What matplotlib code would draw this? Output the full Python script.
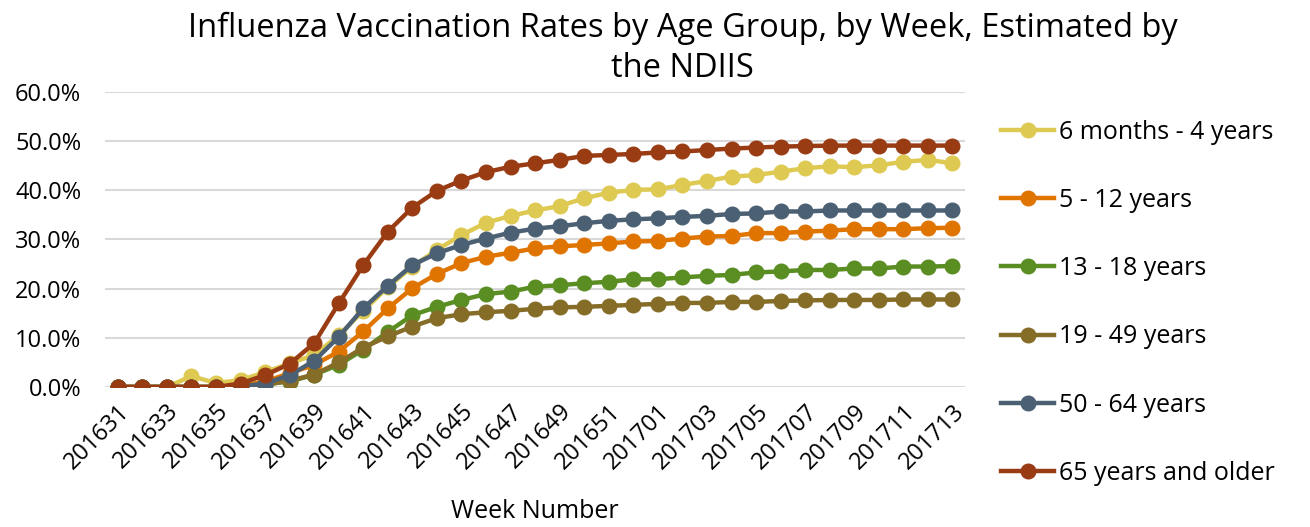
import matplotlib
matplotlib.use('Agg')
import matplotlib.pyplot as plt
from matplotlib.ticker import PercentFormatter

plt.rcParams['font.family'] = ['Open Sans', 'DejaVu Sans']

weeks = [str(201600 + w) for w in range(31, 53)] + [str(201700 + w) for w in range(1, 14)]

labels = ['6 months - 4 years', '5 - 12 years', '13 - 18 years',
          '19 - 49 years', '50 - 64 years', '65 years and older']
colors = ['#DECA52', '#E07400', '#5A8D22', '#856D28', '#4B6073', '#993C14']

y6m_4 = [0, 0, 0, 2.2, 0.8, 1.4, 3.0, 4.8, 6.5, 10.5, 15.5, 20.3, 24.5, 27.9, 30.9,
         33.4, 34.8, 35.9, 36.8, 38.4, 39.5, 40.1, 40.2, 41.1, 41.9, 42.8, 43.1,
         43.8, 44.5, 44.9, 44.7, 45.1, 45.8, 46.2, 45.5]
y5_12 = [0, 0, 0, 0, 0, 0.2, 1.1, 2.8, 4.5, 7.2, 11.3, 16.0, 20.1, 23.0, 25.2,
         26.5, 27.3, 28.2, 28.6, 28.9, 29.2, 29.6, 29.7, 30.2, 30.6, 30.7, 31.3,
         31.3, 31.6, 31.8, 32.1, 32.1, 32.1, 32.3, 32.4]
y13_18 = [0, 0, 0, 0, 0, 0.1, 0.6, 1.1, 2.5, 4.5, 7.6, 11.2, 14.6, 16.3, 17.7,
          18.9, 19.4, 20.4, 20.7, 21.1, 21.4, 21.9, 21.9, 22.3, 22.6, 22.8, 23.3,
          23.5, 23.8, 23.8, 24.1, 24.1, 24.5, 24.5, 24.6]
y19_49 = [0, 0, 0, 0, 0, 0.1, 0.4, 1.3, 2.5, 5.0, 8.0, 10.3, 12.3, 14.0, 14.8,
          15.2, 15.5, 15.9, 16.2, 16.3, 16.5, 16.7, 16.9, 17.1, 17.1, 17.3, 17.3,
          17.5, 17.6, 17.7, 17.7, 17.7, 17.8, 17.8, 17.8]
y50_64 = [0, 0, 0, 0, 0, 0.1, 0.7, 2.4, 5.3, 10.2, 16.0, 20.6, 24.8, 27.2, 28.9,
          30.2, 31.4, 32.2, 32.7, 33.3, 33.8, 34.1, 34.3, 34.6, 34.8, 35.2, 35.3,
          35.7, 35.7, 35.9, 35.9, 35.9, 35.9, 35.9, 35.9]
y65 = [0, 0, 0, 0, 0, 0.7, 2.4, 4.7, 8.9, 17.0, 24.8, 31.6, 36.5, 39.9, 42.0,
       43.7, 44.8, 45.5, 46.2, 47.0, 47.2, 47.4, 47.7, 47.9, 48.2, 48.5, 48.7,
       48.9, 49.0, 49.1, 49.1, 49.1, 49.1, 49.1, 49.1]

series = [y6m_4, y5_12, y13_18, y19_49, y50_64, y65]

fig = plt.figure(figsize=(13.1, 5.27), dpi=100)
ax = fig.add_axes([0.080, 0.2657, 0.657, 0.5597])

x = range(len(weeks))
for vals, lab, c in zip(series, labels, colors):
    ax.plot(x, [v / 100 for v in vals], color=c, lw=3.2, marker='o', ms=10.5, label=lab)

ax.set_ylim(0, 0.6)
ax.set_yticks([0, 0.1, 0.2, 0.3, 0.4, 0.5, 0.6])
ax.yaxis.set_major_formatter(PercentFormatter(1.0, decimals=1))
ax.set_xlim(-0.53, len(weeks) - 1 + 0.53)
ax.set_xticks(list(range(0, len(weeks), 2)))
ax.set_xticklabels(weeks[::2], rotation=45, ha='right', va='top', rotation_mode='anchor')
ax.grid(axis='y', color='#D9D9D9', lw=1.5)
ax.set_axisbelow(True)
for s in ax.spines.values():
    s.set_visible(False)
ax.tick_params(length=0, labelsize=17, colors='black')
ax.tick_params(axis='x', pad=9)
ax.tick_params(axis='y', pad=17)
ax.set_xlabel('Week Number', fontsize=18, labelpad=18)

fig.text(0.521, 0.978, 'Influenza Vaccination Rates by Age Group, by Week, Estimated by\nthe NDIIS',
         ha='center', va='top', fontsize=23.5, linespacing=1.3)

fig.legend(loc='upper left', bbox_to_anchor=(0.7567, 0.792), frameon=False, fontsize=18,
           handlelength=2.1, handletextpad=0.2, labelspacing=1.73, borderaxespad=0)

fig.savefig('out.png', dpi=100)
